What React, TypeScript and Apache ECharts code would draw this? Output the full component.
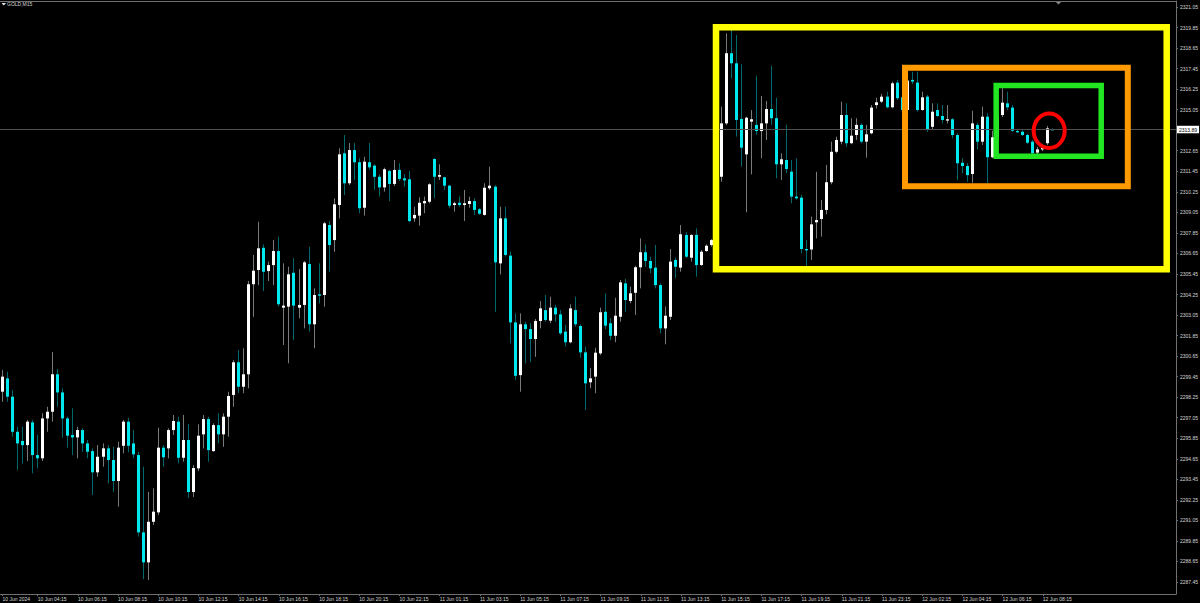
import React, { useEffect, useRef } from 'react';
import * as echarts from 'echarts';

const SYMBOL_TITLE = 'GOLD,M15';
const FIRST_AXIS_LABEL = '10 Jun 2024';
const BID_PRICE = 2313.89;

const opens = [
  2298.57, 2299.35, 2298.28, 2296.23, 2295.69, 2295.45, 2296.78, 2294.87, 2294.68, 2297.01,
  2297.40, 2299.59, 2298.53, 2297.01, 2296.04, 2295.90, 2296.33, 2295.55, 2295.10, 2293.86,
  2294.77, 2295.26, 2294.58, 2293.35, 2295.41, 2296.82, 2295.55, 2294.87, 2290.35, 2288.60,
  2290.97, 2291.52, 2295.30, 2295.26, 2296.33, 2296.82, 2294.71, 2295.75, 2292.71, 2294.09,
  2296.08, 2296.97, 2295.10, 2296.62, 2296.08, 2297.11, 2298.38, 2300.29, 2298.86, 2299.59,
  2304.85, 2305.68, 2306.98, 2305.62, 2305.97, 2306.79, 2303.48, 2303.54, 2305.52, 2303.48,
  2303.64, 2306.03, 2302.51, 2304.26, 2304.22, 2308.31, 2307.43, 2309.48, 2312.50, 2310.75,
  2312.69, 2311.98, 2309.32, 2311.98, 2311.78, 2311.13, 2310.51, 2311.47, 2310.71, 2311.53,
  2311.04, 2310.98, 2308.70, 2308.86, 2309.58, 2309.67, 2312.17, 2311.13, 2311.10, 2310.61,
  2309.48, 2309.61, 2309.48, 2309.54, 2309.71, 2309.23, 2308.90, 2310.46, 2310.55, 2306.07,
  2308.70, 2306.52, 2302.62, 2299.54, 2302.51, 2302.23, 2301.65, 2302.70, 2303.34, 2302.72,
  2303.48, 2303.09, 2302.08, 2301.46, 2303.34, 2302.41, 2300.87, 2299.12, 2299.45, 2300.81,
  2303.24, 2302.57, 2301.84, 2302.95, 2304.90, 2303.87, 2304.35, 2305.84, 2306.72, 2306.21,
  2305.82, 2304.80, 2302.27, 2302.95, 2306.27, 2305.82, 2307.73, 2306.40, 2307.73, 2305.97,
  2306.79, 2307.14, 2307.43, 2311.13, 2314.25, 2318.35, 2317.76, 2314.51, 2312.44, 2314.35,
  2314.16, 2313.80, 2314.25, 2315.09, 2314.55, 2311.86, 2312.11, 2311.43, 2309.97, 2309.91,
  2306.91, 2306.88, 2308.47, 2308.66, 2309.19, 2310.81, 2312.59, 2313.18, 2314.74, 2313.09,
  2313.57, 2314.16, 2313.18, 2313.67, 2315.32, 2315.52, 2315.81, 2315.19, 2316.63, 2315.77,
  2315.03, 2316.79, 2316.63, 2315.03, 2315.81, 2314.05, 2315.03, 2314.68, 2314.41, 2314.49,
  2313.57, 2311.95, 2311.76, 2311.29, 2314.16, 2313.18, 2314.64, 2312.27, 2313.44, 2314.74,
  2315.42, 2315.17, 2313.80, 2313.76, 2313.57, 2313.18, 2312.54, 2312.73, 2313.09, 2313.90,
];

const highs = [
  2299.84, 2299.74, 2298.67, 2296.52, 2296.52, 2296.92, 2296.92, 2296.04, 2297.31, 2297.69,
  2300.89, 2299.90, 2298.77, 2297.11, 2297.60, 2296.52, 2296.43, 2295.75, 2295.26, 2295.45,
  2295.55, 2295.45, 2295.35, 2295.65, 2296.92, 2297.05, 2296.33, 2295.06, 2294.19, 2292.72,
  2292.92, 2296.47, 2295.45, 2296.43, 2297.21, 2297.11, 2297.21, 2296.68, 2294.28, 2296.66,
  2297.21, 2297.11, 2296.72, 2297.31, 2297.31, 2298.57, 2300.42, 2301.01, 2301.11, 2305.04,
  2306.56, 2308.50, 2307.18, 2306.17, 2307.43, 2307.63, 2306.07, 2305.87, 2306.37, 2305.74,
  2306.21, 2307.04, 2304.61, 2306.07, 2308.50, 2308.54, 2309.87, 2312.79, 2313.57, 2313.10,
  2313.10, 2312.21, 2312.30, 2313.10, 2311.86, 2311.27, 2311.66, 2311.53, 2312.11, 2311.92,
  2311.27, 2311.47, 2309.38, 2309.93, 2309.97, 2310.75, 2312.21, 2311.86, 2311.13, 2310.65,
  2309.67, 2309.97, 2310.36, 2309.97, 2309.87, 2309.29, 2310.75, 2311.72, 2310.65, 2309.38,
  2309.38, 2306.75, 2303.15, 2303.15, 2302.66, 2302.57, 2302.82, 2303.87, 2304.22, 2304.12,
  2303.64, 2303.34, 2302.47, 2303.68, 2304.12, 2302.51, 2301.20, 2299.94, 2301.14, 2303.48,
  2304.32, 2302.86, 2304.06, 2305.10, 2305.16, 2304.71, 2305.93, 2307.53, 2307.18, 2306.46,
  2307.14, 2304.90, 2303.54, 2306.91, 2306.40, 2308.31, 2307.90, 2307.77, 2308.12, 2306.85,
  2307.18, 2307.49, 2311.23, 2315.22, 2319.51, 2319.71, 2319.41, 2317.70, 2314.64, 2315.03,
  2317.04, 2315.85, 2315.56, 2317.62, 2315.75, 2312.50, 2314.16, 2312.11, 2312.21, 2310.06,
  2307.43, 2308.80, 2311.42, 2309.77, 2311.82, 2313.18, 2313.47, 2315.52, 2315.42, 2314.55,
  2314.55, 2314.25, 2314.16, 2315.32, 2315.75, 2315.97, 2316.10, 2316.69, 2316.79, 2315.91,
  2316.90, 2317.27, 2317.27, 2316.10, 2315.91, 2315.42, 2315.42, 2315.32, 2315.32, 2314.55,
  2313.67, 2312.21, 2311.92, 2314.99, 2314.29, 2315.22, 2314.84, 2313.82, 2315.00, 2316.30,
  2316.10, 2315.32, 2313.86, 2313.84, 2313.63, 2313.28, 2312.87, 2313.05, 2314.10, 2313.95,
];

const lows = [
  2297.98, 2297.98, 2295.94, 2293.99, 2294.38, 2294.52, 2293.80, 2294.09, 2294.52, 2296.23,
  2296.82, 2297.69, 2295.88, 2295.30, 2294.87, 2294.68, 2295.06, 2294.68, 2292.53, 2293.60,
  2294.19, 2293.22, 2292.72, 2291.85, 2294.97, 2295.03, 2294.68, 2290.10, 2287.62, 2287.56,
  2290.78, 2291.36, 2294.19, 2294.68, 2296.04, 2294.38, 2294.48, 2292.36, 2292.42, 2293.93,
  2295.26, 2294.48, 2295.06, 2295.55, 2295.35, 2295.94, 2297.69, 2298.48, 2298.48, 2298.77,
  2302.95, 2304.80, 2304.45, 2305.04, 2304.80, 2303.54, 2301.30, 2300.23, 2301.59, 2302.86,
  2302.27, 2302.08, 2301.11, 2303.74, 2303.54, 2305.58, 2306.75, 2308.70, 2310.06, 2310.65,
  2310.94, 2309.00, 2308.86, 2311.53, 2310.36, 2309.97, 2310.26, 2309.71, 2310.59, 2310.88,
  2310.55, 2308.47, 2308.50, 2308.27, 2309.00, 2309.58, 2309.87, 2310.94, 2310.36, 2309.29,
  2309.09, 2309.38, 2308.54, 2309.32, 2308.90, 2308.90, 2308.86, 2310.36, 2303.24, 2305.43,
  2306.46, 2301.40, 2299.25, 2298.57, 2300.23, 2300.29, 2300.61, 2302.27, 2302.66, 2302.57,
  2302.66, 2301.88, 2301.20, 2301.40, 2302.37, 2300.56, 2297.50, 2298.77, 2298.48, 2300.71,
  2302.23, 2301.59, 2301.46, 2302.66, 2303.24, 2303.74, 2303.05, 2304.61, 2305.87, 2305.49,
  2304.61, 2301.98, 2301.34, 2302.76, 2305.20, 2305.58, 2306.37, 2306.17, 2305.29, 2305.93,
  2306.75, 2307.04, 2307.30, 2310.84, 2314.15, 2316.88, 2313.47, 2311.72, 2309.05, 2311.27,
  2313.57, 2312.21, 2313.28, 2314.16, 2311.04, 2310.94, 2311.33, 2309.58, 2309.80, 2306.66,
  2305.87, 2306.27, 2307.53, 2307.63, 2308.94, 2310.69, 2312.50, 2313.03, 2312.89, 2313.03,
  2313.28, 2313.09, 2312.24, 2313.61, 2315.13, 2315.44, 2315.13, 2315.13, 2315.62, 2314.91,
  2314.95, 2316.55, 2314.93, 2314.99, 2313.76, 2313.86, 2314.61, 2314.25, 2314.25, 2313.38,
  2310.94, 2311.33, 2310.84, 2310.78, 2312.73, 2312.99, 2310.75, 2312.21, 2313.30, 2314.62,
  2315.03, 2313.75, 2313.69, 2313.51, 2313.04, 2312.40, 2312.46, 2312.63, 2312.99, 2313.86,
];

const closes = [
  2299.45, 2298.28, 2296.23, 2295.55, 2295.45, 2296.82, 2294.87, 2294.68, 2297.01, 2297.40,
  2299.59, 2298.53, 2297.01, 2296.00, 2295.90, 2296.33, 2295.55, 2295.06, 2293.86, 2294.77,
  2295.26, 2294.58, 2293.35, 2295.30, 2296.82, 2295.41, 2294.91, 2290.35, 2288.60, 2290.97,
  2291.56, 2295.30, 2294.74, 2296.33, 2296.86, 2294.71, 2295.75, 2292.71, 2294.11, 2296.00,
  2296.97, 2295.16, 2296.62, 2296.08, 2297.11, 2298.32, 2300.29, 2298.86, 2299.59, 2304.85,
  2305.64, 2306.95, 2305.58, 2305.97, 2306.79, 2303.68, 2303.60, 2305.43, 2303.60, 2303.64,
  2306.13, 2302.51, 2304.22, 2304.18, 2308.41, 2307.14, 2309.52, 2312.44, 2310.75, 2312.69,
  2311.98, 2309.29, 2312.01, 2311.68, 2311.13, 2310.51, 2311.57, 2310.71, 2311.53, 2311.00,
  2310.92, 2308.54, 2308.90, 2309.61, 2309.71, 2310.69, 2311.13, 2311.23, 2310.61, 2309.44,
  2309.58, 2309.48, 2309.58, 2309.71, 2309.19, 2308.97, 2310.49, 2310.61, 2306.13, 2308.70,
  2306.56, 2302.62, 2299.50, 2302.51, 2302.23, 2301.65, 2302.70, 2303.44, 2302.76, 2303.48,
  2303.09, 2301.98, 2301.46, 2303.44, 2302.51, 2300.87, 2299.06, 2299.35, 2300.85, 2303.21,
  2302.43, 2301.84, 2303.01, 2304.96, 2303.93, 2304.32, 2305.84, 2306.72, 2306.21, 2305.78,
  2304.80, 2302.27, 2303.01, 2306.17, 2305.87, 2307.77, 2306.46, 2307.73, 2305.97, 2306.75,
  2307.10, 2307.43, 2311.12, 2314.25, 2318.35, 2317.76, 2314.45, 2312.83, 2314.58, 2314.49,
  2313.80, 2314.25, 2315.09, 2314.55, 2311.86, 2312.15, 2311.58, 2309.97, 2309.87, 2306.91,
  2306.83, 2308.35, 2308.60, 2309.19, 2310.81, 2312.59, 2313.28, 2314.74, 2313.09, 2313.53,
  2314.16, 2313.18, 2313.61, 2315.17, 2315.48, 2315.81, 2315.19, 2316.59, 2315.72, 2315.03,
  2316.75, 2316.69, 2315.03, 2315.77, 2313.86, 2314.93, 2314.68, 2314.45, 2314.49, 2313.57,
  2311.92, 2311.76, 2311.23, 2314.25, 2313.18, 2314.64, 2312.27, 2313.44, 2314.70, 2315.46,
  2315.19, 2313.82, 2313.73, 2313.57, 2313.12, 2312.50, 2312.73, 2312.89, 2313.96, 2313.89,
];

const priceTicks = [
  2287.45, 2288.65, 2289.85, 2291.05, 2292.25, 2293.45, 2294.65, 2295.85, 2297.05, 2298.25,
  2299.45, 2300.65, 2301.85, 2303.05, 2304.25, 2305.45, 2306.65, 2307.85, 2309.05, 2310.25,
  2311.45, 2312.65, 2313.85, 2315.05, 2316.25, 2317.45, 2318.65, 2319.85, 2321.05,
];

// annotation boxes, in bar-index units (x) and prices (y)
const boxLeft = [141.97, 179.58, 197.72];
const boxRight = [231.65, 223.91, 218.62];
const boxTop = [2319.86, 2317.5, 2316.46];
const boxBottom = [2305.72, 2310.57, 2312.33];
const circleLeft = [205.18];
const circleRight = [211.35];
const circleTop = [2314.82];
const circleBottom = [2312.81];

// layout / style constants
const BAR_SLOTS = 234;
const PRICE_MIN = 2286.75;
const PRICE_MAX = 2321.4;
const FONT = '"Liberation Sans", Arial, sans-serif';
const TXT = '#d6d6d6';
const AXIS = '#707070';
const BULL = '#ffffff';
const BEAR = '#00e8ee';
const BULL_WICK = '#7a7a7a';
const BEAR_WICK = '#00686c';
const BOX_STYLES = [
  { color: '#ffff00', width: 6.5 },
  { color: '#ff9a00', width: 6 },
  { color: '#22e622', width: 5.5 },
];
const CIRCLE_STYLE = { color: '#ff0000', width: 4 };

const MONTHS = ['Jan', 'Feb', 'Mar', 'Apr', 'May', 'Jun', 'Jul', 'Aug', 'Sep', 'Oct', 'Nov', 'Dec'];
const pad = (n: number) => (n < 10 ? '0' + n : '' + n);

function buildTimes(count: number): string[] {
  const out: string[] = [];
  let t = Date.UTC(2024, 5, 10, 2, 30);
  while (out.length < count) {
    const d = new Date(t);
    if (d.getUTCHours() !== 0) {
      out.push(`${d.getUTCDate()} ${MONTHS[d.getUTCMonth()]} ${pad(d.getUTCHours())}:${pad(d.getUTCMinutes())}`);
    }
    t += 15 * 60000;
  }
  return out;
}

const times = buildTimes(BAR_SLOTS);
const BAR_COUNT = opens.length;
const showLabel = (index: number) => index === 0 || (index >= 7 && (index - 7) % 8 === 0 && index < BAR_COUNT);

export default function App() {
  const ref = useRef<HTMLDivElement>(null);

  useEffect(() => {
    document.body.style.margin = '0';
    document.body.style.background = '#000';
    const chart = echarts.init(ref.current as HTMLDivElement, null, { renderer: 'svg' });

    const candleData = opens.map((o, i) => [i, o, closes[i], lows[i], highs[i]]);
    const boxData = boxLeft.map((l, i) => [l, boxTop[i], boxRight[i], boxBottom[i]]);
    const circleData = circleLeft.map((l, i) => [l, circleTop[i], circleRight[i], circleBottom[i]]);

    const option: any = {
      backgroundColor: '#000000',
      animation: false,
      title: {
        text: SYMBOL_TITLE,
        left: 7,
        top: 1.5,
        padding: 0,
        textStyle: { color: TXT, fontSize: 5, fontWeight: 'normal', fontFamily: FONT },
      },
      grid: { left: 0, right: 24, top: 1, bottom: 9, containLabel: false, outerBoundsMode: 'none' },
      xAxis: [
        {
          type: 'category',
          data: times,
          boundaryGap: true,
          axisLine: { show: true, onZero: false, lineStyle: { color: AXIS, width: 1 } },
          axisTick: { show: true, alignWithLabel: true, interval: showLabel, length: 2, lineStyle: { color: AXIS } },
          axisLabel: {
            interval: showLabel,
            formatter: (v: string, i: number) => (i === 0 ? FIRST_AXIS_LABEL : v),
            color: TXT,
            fontSize: 5,
            fontFamily: FONT,
            align: 'left',
            margin: 2,
          },
          splitLine: { show: false },
        },
        {
          type: 'value',
          min: -0.5,
          max: BAR_SLOTS - 0.5,
          position: 'top',
          axisLine: { show: true, onZero: false, lineStyle: { color: AXIS, width: 1 } },
          axisTick: { show: false },
          axisLabel: { show: false },
          splitLine: { show: false },
        },
      ],
      yAxis: {
        type: 'value',
        position: 'right',
        min: PRICE_MIN,
        max: PRICE_MAX,
        axisLine: { show: true, onZero: false, lineStyle: { color: AXIS, width: 1 } },
        axisTick: { show: true, customValues: priceTicks, length: 2, lineStyle: { color: AXIS } },
        axisLabel: {
          customValues: priceTicks,
          formatter: (v: number) => v.toFixed(2),
          color: TXT,
          fontSize: 5,
          fontFamily: FONT,
          margin: 4,
          padding: [3, 0, 0, 0],
        },
        splitLine: { show: false },
      },
      series: [
        {
          type: 'custom',
          name: 'candles',
          xAxisIndex: 0,
          yAxisIndex: 0,
          data: candleData,
          encode: { x: 0, y: [1, 2, 3, 4] },
          z: 2,
          renderItem: (params: any, api: any) => {
            const i = api.value(0);
            const o = api.value(1);
            const c = api.value(2);
            const l = api.value(3);
            const h = api.value(4);
            const pO = api.coord([i, o]);
            const pC = api.coord([i, c]);
            const pL = api.coord([i, l]);
            const pH = api.coord([i, h]);
            const x = Math.floor(pO[0]);
            const up = c >= o;
            const top = Math.min(pO[1], pC[1]);
            const bot = Math.max(pO[1], pC[1]);
            const bodyH = Math.max(1, bot - top);
            return {
              type: 'group',
              children: [
                {
                  type: 'line',
                  shape: { x1: x + 0.5, y1: pH[1], x2: x + 0.5, y2: pL[1] },
                  style: { stroke: up ? BULL_WICK : BEAR_WICK, lineWidth: 1 },
                },
                {
                  type: 'rect',
                  shape: { x: x - 1, y: top, width: 3, height: bodyH },
                  style: { fill: up ? BULL : BEAR },
                },
              ],
            };
          },
          markLine: {
            silent: true,
            symbol: ['none', 'none'],
            animation: false,
            lineStyle: { color: '#505050', width: 1, type: 'solid' },
            label: {
              show: true,
              position: 'end',
              formatter: () => BID_PRICE.toFixed(2),
              backgroundColor: '#ffffff',
              color: '#000000',
              fontSize: 5,
              fontFamily: FONT,
              padding: [1.5, 2, 1, 2],
              distance: 1,
            },
            data: [{ yAxis: BID_PRICE }],
          },
        },
        {
          type: 'custom',
          name: 'boxes',
          xAxisIndex: 1,
          yAxisIndex: 0,
          data: boxData,
          encode: { x: [0, 2], y: [1, 3] },
          z: 5,
          renderItem: (params: any, api: any) => {
            const p1 = api.coord([api.value(0), api.value(1)]);
            const p2 = api.coord([api.value(2), api.value(3)]);
            const s = BOX_STYLES[params.dataIndex];
            return {
              type: 'rect',
              shape: {
                x: Math.min(p1[0], p2[0]),
                y: Math.min(p1[1], p2[1]),
                width: Math.abs(p2[0] - p1[0]),
                height: Math.abs(p2[1] - p1[1]),
              },
              style: { fill: 'none', stroke: s.color, lineWidth: s.width },
            };
          },
        },
        {
          type: 'custom',
          name: 'circle',
          xAxisIndex: 1,
          yAxisIndex: 0,
          data: circleData,
          encode: { x: [0, 2], y: [1, 3] },
          z: 6,
          renderItem: (params: any, api: any) => {
            const p1 = api.coord([api.value(0), api.value(1)]);
            const p2 = api.coord([api.value(2), api.value(3)]);
            return {
              type: 'ellipse',
              shape: {
                cx: (p1[0] + p2[0]) / 2,
                cy: (p1[1] + p2[1]) / 2,
                rx: Math.abs(p2[0] - p1[0]) / 2,
                ry: Math.abs(p2[1] - p1[1]) / 2,
              },
              style: { fill: 'none', stroke: CIRCLE_STYLE.color, lineWidth: CIRCLE_STYLE.width },
            };
          },
        },
      ],
      graphic: [
        {
          type: 'polygon',
          shape: { points: [[1.5, 3], [6, 3], [3.75, 5.5]] },
          style: { fill: '#e6e6e6' },
        },
        {
          type: 'polygon',
          shape: { points: [[1055, 1], [1062, 1], [1058.5, 4.5]] },
          style: { fill: '#8c8c8c' },
        },
      ],
    };

    chart.setOption(option);
    return () => chart.dispose();
  }, []);

  return (
    <div
      ref={ref}
      style={{ position: 'absolute', left: 0, top: 0, width: 1200, height: 603, background: '#000' }}
    />
  );
}
